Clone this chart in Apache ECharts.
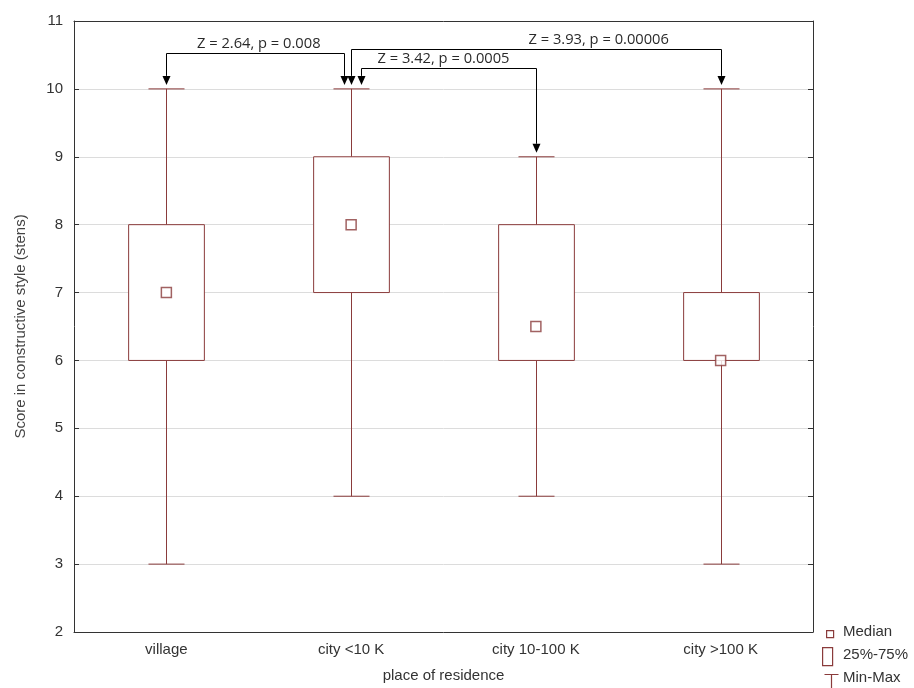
<!DOCTYPE html>
<html>
<head>
<meta charset="utf-8">
<script src="https://cdn.jsdelivr.net/npm/echarts@6/dist/echarts.min.js"></script>
<style>
html,body{margin:0;padding:0;background:#fff;}
#ChartMain{width:914px;height:688px;}
</style>
</head>
<body>
<div id="ChartMain"></div>
<script>
// categories and box values: [min, q1, median, q3, max]
var categories = ['village', 'city <10 K', 'city 10-100 K', 'city >100 K'];
var minVals = [3, 4, 4, 3];
var q1Vals = [6, 7, 6, 6];
var medianVals = [7, 8, 6.5, 6];
var q3Vals = [8, 9, 8, 7];
var maxVals = [10, 10, 9, 10];

// pairwise comparisons
var cmpFrom = [1, 1, 1];
var cmpTo = [0, 3, 2];
var cmpLabels = ['Z = 2.64, p = 0.008', 'Z = 3.93, p = 0.00006', 'Z = 3.42, p = 0.0005'];
var cmpLevel = [10.53, 10.59, 10.31];
var cmpLabelX = [0.5, 2.34, 1.5];

var boxColor = '#8a3b3b';
var axisFont = 'Liberation Sans, Arial, sans-serif';

// pixel offsets of arrows near a shared box (style only)
var fromShift = [-7, 0, 10];

var boxData = categories.map(function (c, i) {
    return [i, minVals[i], q1Vals[i], medianVals[i], q3Vals[i], maxVals[i]];
});
var medianData = categories.map(function (c, i) { return [i, medianVals[i]]; });
var cmpData = cmpFrom.map(function (f, i) {
    return [f, cmpTo[i], cmpLevel[i], maxVals[f], maxVals[cmpTo[i]], cmpLabelX[i]];
});

function renderBox(params, api) {
    var x = api.value(0);
    var band = api.size([1, 0])[0];
    var bw = band * 0.41, cw = band * 0.195;
    var pMin = api.coord([x, api.value(1)]);
    var pQ1 = api.coord([x, api.value(2)]);
    var pQ3 = api.coord([x, api.value(4)]);
    var pMax = api.coord([x, api.value(5)]);
    var cx = Math.round(pMin[0]) + 0.5;
    var st = {stroke: boxColor, lineWidth: 1, fill: null};
    return {
        type: 'group',
        children: [
            {type: 'line', shape: {x1: cx, y1: pMin[1], x2: cx, y2: pQ1[1]}, style: st},
            {type: 'line', shape: {x1: cx, y1: pQ3[1], x2: cx, y2: pMax[1]}, style: st},
            {type: 'line', shape: {x1: cx - cw / 2, y1: pMin[1], x2: cx + cw / 2, y2: pMin[1]}, style: st},
            {type: 'line', shape: {x1: cx - cw / 2, y1: pMax[1], x2: cx + cw / 2, y2: pMax[1]}, style: st},
            {type: 'rect', shape: {x: cx - bw / 2, y: pQ3[1], width: bw, height: pQ1[1] - pQ3[1]},
                style: {stroke: boxColor, lineWidth: 1, fill: '#fff'}}
        ]
    };
}

function arrowHead(x, tipY) {
    return {type: 'polygon', shape: {points: [[x - 4, tipY - 9], [x + 4, tipY - 9], [x, tipY]]},
        style: {fill: '#000'}};
}

// category axis coord rounds fractional values, so interpolate between bands
function fracX(api, v, level) {
    var k = Math.floor(v);
    var a = api.coord([k, level])[0];
    var b = api.coord([k + 1, level])[0];
    return a + (v - k) * (b - a);
}

function renderCmp(params, api) {
    var i = params.dataIndex;
    var pFrom = api.coord([api.value(0), api.value(2)]);
    var pTo = api.coord([api.value(1), api.value(2)]);
    var tipFrom = api.coord([api.value(0), api.value(3)])[1] - 4;
    var tipTo = api.coord([api.value(1), api.value(4)])[1] - 4;
    var labX = fracX(api, api.value(5), api.value(2));
    var x1 = Math.round(pFrom[0] + fromShift[i]) + 0.5;
    var x2 = Math.round(pTo[0]) + 0.5;
    var y = Math.round(pFrom[1]) + 0.5;
    var st = {stroke: '#000', lineWidth: 1, fill: null};
    return {
        type: 'group',
        children: [
            {type: 'polyline', shape: {points: [[x1, tipFrom - 9], [x1, y], [x2, y], [x2, tipTo - 9]]}, style: st},
            arrowHead(x1, tipFrom),
            arrowHead(x2, tipTo),
            {type: 'text', x: labX, y: y - 2,
                style: {text: cmpLabels[i], fill: '#2a2a2a', font: '14.7px "Open Sans", sans-serif',
                    align: 'center', verticalAlign: 'bottom'}}
        ]
    };
}

var chart = echarts.init(document.getElementById('ChartMain'));
var option = {
    backgroundColor: '#fff',
    animation: false,
    grid: {left: 74, right: 101, top: 21, bottom: 55},
    xAxis: [{
        type: 'category',
        data: categories,
        name: 'place of residence',
        nameLocation: 'middle',
        nameGap: 36,
        nameTextStyle: {fontFamily: axisFont, fontSize: 15, color: '#333'},
        axisLine: {lineStyle: {color: '#333'}},
        axisTick: {alignWithLabel: true, inside: true, length: 5, lineStyle: {color: '#333'}},
        axisLabel: {fontFamily: axisFont, fontSize: 15, color: '#333', margin: 10},
        splitLine: {show: false}
    }, {
        type: 'category',
        data: categories,
        position: 'top',
        axisLine: {lineStyle: {color: '#333'}},
        axisTick: {alignWithLabel: true, inside: true, length: 5, lineStyle: {color: '#333'}},
        axisLabel: {show: false}
    }],
    yAxis: [{
        type: 'value',
        min: 2,
        max: 11,
        interval: 1,
        name: 'Score in constructive style (stens)',
        nameLocation: 'middle',
        nameGap: 46,
        nameTextStyle: {fontFamily: axisFont, fontSize: 15, color: '#444'},
        axisLine: {show: true, lineStyle: {color: '#333'}},
        axisTick: {show: true, inside: true, length: 5, lineStyle: {color: '#333'}},
        axisLabel: {fontFamily: axisFont, fontSize: 15, color: '#333', margin: 11},
        splitLine: {lineStyle: {color: '#dcdcdc'}}
    }, {
        type: 'value',
        min: 2,
        max: 11,
        interval: 1,
        position: 'right',
        axisLine: {show: true, lineStyle: {color: '#333'}},
        axisTick: {show: true, inside: true, length: 5, lineStyle: {color: '#333'}},
        axisLabel: {show: false},
        splitLine: {show: false}
    }],
    series: [{
        type: 'custom',
        renderItem: renderBox,
        data: boxData,
        encode: {x: 0, y: [1, 2, 3, 4, 5]},
        z: 3
    }, {
        type: 'scatter',
        data: medianData,
        symbol: 'rect',
        symbolSize: 10,
        itemStyle: {color: '#fff', borderColor: boxColor, borderWidth: 1.5},
        z: 4
    }, {
        type: 'custom',
        renderItem: renderCmp,
        data: cmpData,
        encode: {x: [0, 1], y: [2, 3, 4]},
        clip: false,
        z: 5
    }],
    graphic: [
        {type: 'rect', left: 826, top: 630, shape: {width: 7, height: 7},
            style: {fill: '#fff', stroke: boxColor, lineWidth: 1.2}},
        {type: 'rect', left: 822, top: 647, shape: {width: 10, height: 18},
            style: {fill: '#fff', stroke: boxColor, lineWidth: 1.2}},
        {type: 'polyline', left: 822, top: 672, shape: {points: [[0, 0], [14, 0], [7, 0], [7, 17]]},
            style: {stroke: boxColor, lineWidth: 1.2, fill: null}},
        {type: 'text', left: 843, top: 624, style: {text: 'Median', font: '15px Liberation Sans, Arial', fill: '#333'}},
        {type: 'text', left: 843, top: 647, style: {text: '25%-75%', font: '15px Liberation Sans, Arial', fill: '#333'}},
        {type: 'text', left: 843, top: 670, style: {text: 'Min-Max', font: '15px Liberation Sans, Arial', fill: '#333'}}
    ]
};
chart.setOption(option);
</script>
</body>
</html>
